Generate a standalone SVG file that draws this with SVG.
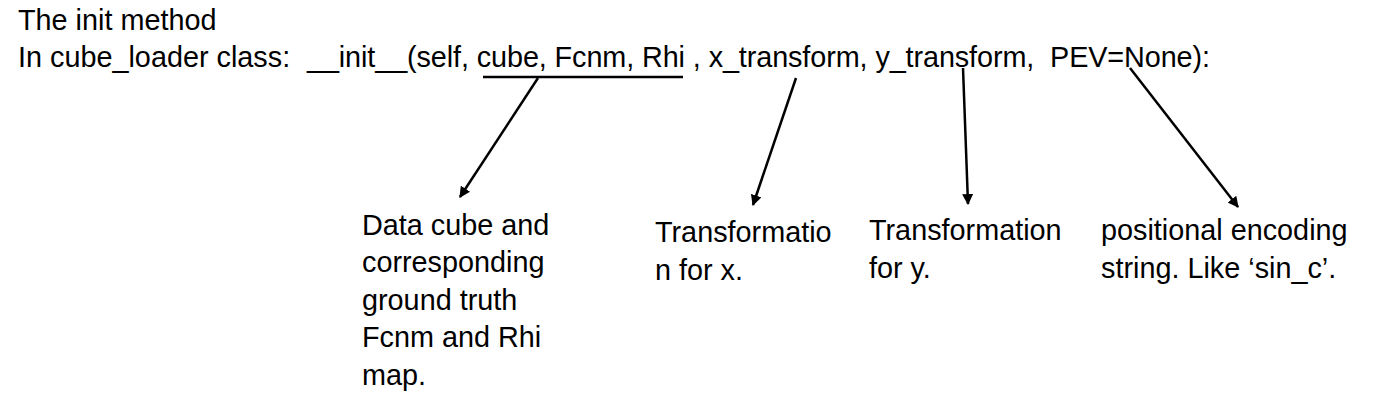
<svg xmlns="http://www.w3.org/2000/svg" width="1381" height="402" viewBox="0 0 1381 402">
<style>
text{font-family:"Liberation Sans",Arial,sans-serif;font-size:28.8px;fill:#000;white-space:pre}
.c{stroke:#000;stroke-width:2.5;fill:none}
</style>
<defs>
<marker id="ah" viewBox="0 0 10 10" refX="9" refY="5" markerWidth="4.4" markerHeight="4.4" markerUnits="strokeWidth" orient="auto">
<path d="M0,0 L10,5 L0,10 z" fill="#000"/>
</marker>
</defs>
<rect width="1381" height="402" fill="#fff"/>
<g id="header">
<text x="18" y="30">The init method</text>
<text x="18" y="67">In cube_loader class:</text>
</g>
<g id="signature">
<text x="307" y="67" textLength="903" lengthAdjust="spacing">__init__(self, cube, Fcnm, Rhi , x_transform, y_transform,  PEV=None):</text>
</g>
<g id="connectors">
<line class="c" x1="483" y1="77" x2="683" y2="77" stroke-width="3"/>
<line class="c" x1="538" y1="78" x2="460" y2="197" marker-end="url(#ah)"/>
<line class="c" x1="796" y1="78" x2="753" y2="205" marker-end="url(#ah)"/>
<line class="c" x1="963" y1="68" x2="968" y2="204" marker-end="url(#ah)"/>
<line class="c" x1="1130" y1="68" x2="1238" y2="207" marker-end="url(#ah)"/>
</g>
<g id="node-cube">
<text x="362" y="235">Data cube and</text>
<text x="362" y="272">corresponding</text>
<text x="362" y="310">ground truth</text>
<text x="362" y="347">Fcnm and Rhi</text>
<text x="362" y="385">map.</text>
</g>
<g id="node-x">
<text x="655" y="242">Transformatio</text>
<text x="655" y="280">n for x.</text>
</g>
<g id="node-y">
<text x="869" y="240">Transformation</text>
<text x="869" y="278">for y.</text>
</g>
<g id="node-pev">
<text x="1101" y="240">positional encoding</text>
<text x="1101" y="278">string. Like ‘sin_c’.</text>
</g>
</svg>
